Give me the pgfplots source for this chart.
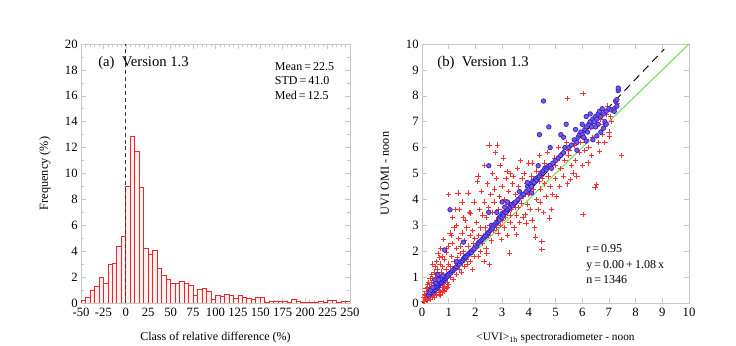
\documentclass[border=0pt]{standalone}
\usepackage{pgfplots}
\pgfplotsset{compat=1.18}
\usepackage{fontspec}
\setmainfont{Liberation Serif}
\definecolor{barred}{RGB}{230,40,40}
\definecolor{crossred}{RGB}{245,50,50}
\definecolor{circblue}{RGB}{40,30,220}
\definecolor{circfill}{RGB}{130,90,200}
\definecolor{lgreen}{RGB}{120,220,90}
\definecolor{axgray}{RGB}{200,200,200}
\begin{document}
\begin{tikzpicture}
\useasboundingbox (0,0) rectangle (552pt,259.5pt);
\pgfplotsset{
  every axis/.append style={
    scale only axis,
    font=\fontsize{9.5}{10}\selectfont,
    /pgf/number format/assume math mode=true,
    axis line style={axgray},
    tick style={axgray, line width=0.4pt},
    major tick length=3.5pt,
    minor tick length=2pt,
    tick align=inside,
    xtick pos=both, ytick pos=both,
    xticklabel style={yshift=0pt},
    yticklabel style={xshift=1pt},
    label style={font=\fontsize{9.2}{11}\selectfont},
  }
}
\begin{axis}[
  at={(60.75pt,32.25pt)}, anchor=south west,
  width=201.75pt, height=194.25pt,
  xmin=-50, xmax=250, ymin=0, ymax=20,
  xtick={-50,-25,0,25,50,75,100,125,150,175,200,225,250},
  xticklabels={-50,-25,0,25,50,75,100,125,150,175,200,225,250},
  ytick={0,2,...,20},
  minor x tick num=4, minor y tick num=1,
  xlabel={Class of relative difference (\%)},
  ylabel={Frequency (\%)},
  xlabel style={at={(axis description cs:0.5,-0.135)}, anchor=center, font=\fontsize{9}{11}\selectfont},
  ylabel style={at={(axis description cs:-0.134,0.5)}, anchor=center},
]
\addplot[ybar interval, draw=barred, fill=red!6, line width=0.6pt] coordinates {
(-50,0.2) (-45,0.45) (-40,0.95) (-35,1.3) (-30,1.95) (-25,1.5) (-20,2.95) (-15,3.05) (-10,4.35) (-5,5.15)
(0,9.0) (5,12.85) (10,11.7) (15,8.95) (20,4.2) (25,3.75) (30,4.05) (35,2.7) (40,2.15) (45,1.85)
(50,1.5) (55,1.55) (60,1.65) (65,1.5) (70,1.35) (75,0.6) (80,1.05) (85,1.15) (90,0.9) (95,0.3)
(100,0.55) (105,0.5) (110,0.65) (115,0.55) (120,0.35) (125,0.6) (130,0.4) (135,0.35) (140,0.3) (145,0.4)
(150,0.45) (155,0.05) (160,0.15) (165,0.15) (170,0.15) (175,0.15) (180,0.05) (185,0.3) (190,0.1) (195,0.05)
(200,0.05) (205,0.05) (210,0.05) (215,0.15) (220,0.05) (225,0.2) (230,0.2) (235,0.05) (240,0.15) (245,0.15)
(250,0.15)};
\addplot[black!80, line width=0.7pt, dash pattern=on 3pt off 2.2pt] coordinates {(0,0) (0,20)};
\node[anchor=west, font=\fontsize{11}{12}\selectfont] at (axis cs:-36,18.5) {(a)\enspace Version 1.3};
\node[anchor=north west, align=left, font=\fontsize{9}{10.8}\selectfont, inner sep=0pt] at (axis cs:166,18.6)
  {Mean\,=\,22.5\\STD\,=\,41.0\\Med\,=\,12.5};
\end{axis}

\begin{axis}[
  at={(316.5pt,32.25pt)}, anchor=south west,
  width=200.25pt, height=194.25pt,
  xmin=0, xmax=10, ymin=0, ymax=10,
  xtick={0,1,...,10}, ytick={0,1,...,10},
  xlabel={\textless UVI\textgreater{}$_{\mathrm{1h}}$ spectroradiometer - noon},
  ylabel={UVI OMI - noon},
  xlabel style={at={(axis description cs:0.5,-0.135)}, anchor=center, font=\fontsize{8.5}{11}\selectfont},
  ylabel style={at={(axis description cs:-0.139,0.5)}, anchor=center},
]
\addplot[only marks, color=crossred, mark=+, mark size=2pt, line width=0.6pt] coordinates {
(0.05,0.08) (0.08,0.2) (0.1,0.05) (0.12,0.3) (0.15,0.12) (0.15,0.45) (0.18,0.25) (0.2,0.6) (0.2,0.1) (0.22,0.35)
(0.25,0.5) (0.25,0.18) (0.28,0.7) (0.3,0.3) (0.3,0.55) (0.32,0.15) (0.35,0.42) (0.35,0.8) (0.38,0.25) (0.4,0.6)
(0.4,0.95) (0.42,0.35) (0.45,0.5) (0.45,0.2) (0.48,0.75) (0.5,1.1) (0.5,0.4) (0.52,0.6) (0.55,0.3) (0.55,0.85)
(0.58,1.3) (0.6,0.5) (0.6,0.7) (0.62,1.0) (0.65,0.35) (0.65,0.6) (0.68,1.5) (0.7,0.8) (0.7,0.45) (0.72,1.2)
(0.75,0.6) (0.75,0.95) (0.78,1.4) (0.8,0.5) (0.8,0.75) (0.82,1.1) (0.85,1.7) (0.85,0.65) (0.88,0.9) (0.9,1.3)
(0.9,0.55) (0.92,1.95) (0.95,0.8) (0.95,1.1) (0.98,1.5) (1.0,0.7) (1.0,2.2) (0.6,1.9) (0.55,1.6) (0.45,1.2)
(0.4,1.5) (0.7,2.1) (0.8,2.45) (0.9,2.1) (0.3,0.95) (0.25,0.8) (0.35,1.1) (0.15,0.55) (0.1,0.35) (0.65,1.75)
(0.75,1.8) (0.5,1.4) (0.2,0.7) (0.95,0.6) (0.85,0.45) (0.78,0.4) (0.7,0.3)
(1.05,1.4) (1.05,2.7) (1.08,1.0) (1.1,1.8) (1.12,2.3) (1.15,1.2) (1.18,0.9) (1.2,1.6) (1.2,2.9) (1.25,1.4)
(1.28,2.1) (1.3,1.1) (1.3,3.0) (1.32,1.75) (1.35,4.25) (1.38,2.5) (1.4,1.3) (1.4,3.6) (1.42,1.9) (1.45,2.2)
(1.48,1.2) (1.5,2.7) (1.52,1.6) (1.55,3.3) (1.55,2.0) (1.58,1.4) (1.6,2.4) (1.62,3.2) (1.65,1.7) (1.68,2.9)
(1.7,1.5) (1.72,4.25) (1.72,2.2) (1.75,1.9) (1.78,3.5) (1.8,1.6) (1.8,2.6) (1.82,3.47) (1.85,2.0) (1.88,1.3)
(1.9,2.8) (1.92,2.3) (1.95,1.8) (1.95,3.9) (1.98,2.5) (1.0,4.2) (1.25,3.6) (1.1,2.6) (1.5,3.9) (1.15,3.3)
(2.0,2.2) (2.05,3.1) (2.07,4.7) (2.1,4.9) (2.1,1.8) (2.12,2.6) (2.15,3.6) (2.18,2.0) (2.2,2.9) (2.22,4.3)
(2.25,2.3) (2.28,3.4) (2.3,2.6) (2.32,1.6) (2.35,5.3) (2.35,3.9) (2.38,2.9) (2.4,2.1) (2.42,3.3) (2.43,1.93)
(2.45,4.6) (2.48,2.7) (2.5,3.7) (2.51,6.1) (2.53,1.48) (2.55,3.0) (2.58,4.2) (2.6,2.4) (2.62,3.5) (2.65,5.0)
(2.68,2.8) (2.7,3.9) (2.72,4.4) (2.76,5.8) (2.78,3.2) (2.8,4.8) (2.82,6.1) (2.85,2.7) (2.88,3.6) (2.9,4.1)
(2.92,5.3) (2.95,3.0) (2.97,2.45) (3.0,4.5) (3.02,3.5) (3.05,5.6) (3.08,2.9) (3.1,4.0) (3.12,3.3) (3.15,4.8)
(3.18,5.08) (3.2,2.6) (3.22,3.8) (3.25,4.3) (3.28,1.93) (3.3,3.1) (3.32,5.0) (3.35,3.6) (3.38,4.6) (3.41,4.89)
(3.45,2.9) (3.48,3.9) (3.5,4.2) (3.53,2.64) (3.55,3.4) (3.58,5.2) (3.6,3.7) (3.62,4.5) (3.65,3.1) (3.68,5.5)
(3.72,3.86) (3.75,4.8) (3.78,3.3) (3.8,4.1) (3.82,5.0) (3.86,3.41) (3.9,3.09) (3.92,4.6) (3.95,3.8) (3.98,5.4)
(4.03,4.25) (4.05,3.6) (4.1,4.9) (4.12,3.2) (4.15,5.4) (4.18,4.4) (4.22,2.9) (4.25,2.55) (4.28,4.0) (4.3,5.1)
(4.35,3.6) (4.38,4.7) (4.4,5.7) (4.42,3.9) (4.45,4.4) (4.49,2.38) (4.49,2.06) (4.52,5.0) (4.55,3.5) (4.58,4.6)
(4.6,5.4) (4.65,4.1) (4.7,5.8) (4.72,4.9) (4.78,3.28) (4.8,4.5) (4.84,3.6) (4.85,5.3) (4.9,4.2) (4.95,5.6)
(5.0,4.8) (5.03,4.12) (5.05,5.5) (5.1,6.0) (5.15,4.5) (5.2,5.2) (5.25,5.8) (5.3,4.9) (5.35,5.5) (5.4,6.2)
(5.44,7.89) (5.45,4.6) (5.5,5.7) (5.56,4.76) (5.6,5.3) (5.66,5.02) (5.7,6.1) (5.75,5.5) (5.8,4.9) (5.85,6.4)
(5.9,5.8) (5.95,6.2) (6.0,5.3) (6.03,8.08) (6.03,3.41) (6.05,6.6) (6.1,5.9) (6.15,6.3) (6.22,5.41) (6.25,6.0)
(6.3,6.8) (6.35,5.7) (6.4,6.4) (6.48,4.47) (6.53,4.57) (6.45,7.0)
(6.6,6.2) (6.65,5.86) (6.7,7.1) (6.75,6.5) (6.8,6.9) (6.85,6.2) (6.9,7.3) (7.0,6.6) (7.03,6.43) (7.1,7.0)
(7.2,7.4) (7.3,7.7) (7.47,5.70) (6.95,7.6) (7.05,7.2)
(1.5,1.55) (2.0,2.1) (2.5,2.6) (3.0,3.2) (3.5,3.7) (4.0,4.2) (4.5,4.8) (5.0,5.3) (5.5,5.9) (6.0,6.4)
(2.8,2.9) (3.3,3.4) (1.2,1.25)};
\addplot[lgreen, line width=0.8pt] coordinates {(0,0) (10,10)};
\addplot[only marks, mark=*, mark size=1.7pt, mark options={draw=circblue, fill=circfill, line width=0.5pt}] coordinates {
(0.3,0.35) (0.35,0.4) (0.38,0.45) (0.4,0.42) (0.42,0.5) (0.45,0.48) (0.48,0.55) (0.5,0.52) (0.52,0.6) (0.55,0.58)
(0.57,0.65) (0.6,0.62) (0.6,0.7) (0.62,0.68) (0.65,0.72) (0.65,0.8) (0.68,0.75) (0.7,0.78) (0.72,0.82) (0.75,0.8)
(0.75,0.9) (0.78,0.85) (0.8,0.88) (0.82,0.92) (0.85,0.9) (0.85,1.0) (0.88,0.95) (0.9,1.0) (0.92,1.05) (0.95,1.02)
(0.98,1.1) (1.0,1.08) (0.25,0.3) (0.28,0.4) (0.33,0.5) (0.45,0.62) (0.55,0.75) (0.7,0.95) (0.5,0.8) (0.4,0.6)
(0.62,0.9) (0.78,1.05) (0.85,2.05) (0.6,1.1) (0.48,0.9)
(1.05,3.6) (1.05,1.15) (1.1,1.2) (1.15,1.25) (1.2,1.3) (1.25,1.35) (1.3,1.4) (1.35,1.5) (1.4,1.5) (1.45,1.6)
(1.5,1.62) (1.55,1.7) (1.6,1.75) (1.62,1.8) (1.65,1.78) (1.7,1.85) (1.75,1.9) (1.8,1.95) (1.85,2.0) (1.85,1.95)
(1.9,2.05) (1.95,2.1) (1.55,2.35) (1.3,1.6)
(2.05,2.2) (2.1,2.3) (2.15,2.35) (2.2,2.4) (2.25,2.45) (2.3,2.5) (2.35,2.55) (2.4,2.6) (2.45,2.7) (2.5,2.72)
(2.5,3.5) (2.5,5.3) (2.55,2.8) (2.6,2.85) (2.6,3.0) (2.65,2.9) (2.7,3.0) (2.75,3.05) (2.8,3.1) (2.85,3.15)
(2.9,3.3) (2.9,3.2) (2.95,3.35) (3.0,3.3) (3.0,3.45) (3.05,3.4) (3.1,3.5) (3.15,3.5) (3.2,3.6) (3.25,3.65)
(3.3,3.7) (3.35,3.8) (3.4,3.75) (3.45,3.85) (3.5,3.9) (3.1,3.7) (3.2,3.9) (2.8,3.5) (3.0,3.9)
(3.6,4.0) (3.7,4.1) (3.8,4.2) (3.9,4.3) (3.95,4.5) (4.0,4.4) (4.05,4.6) (4.1,4.5) (4.15,4.7) (4.2,4.65)
(4.25,4.8) (4.3,4.75) (4.35,4.85) (4.4,4.9) (4.45,5.0) (4.5,5.05) (4.55,5.1) (4.6,5.2) (4.65,5.15) (4.7,5.25)
(4.75,5.3) (4.8,5.3) (4.85,5.2) (4.9,5.4) (5.0,5.5) (5.1,5.6) (5.2,5.7) (5.3,5.8) (4.35,5.3) (4.55,7.8)
(4.4,6.5) (4.75,6.8) (3.65,4.3) (3.95,4.65) (4.1,4.25) (5.2,6.5) (5.3,6.4) (5.4,6.9) (5.35,6.0) (4.8,6.0)
(5.5,6.0) (5.6,6.1) (5.7,6.3) (5.8,6.2) (5.85,6.4) (5.9,6.5) (5.95,6.6) (6.0,6.5) (6.05,6.4) (6.1,6.7)
(6.15,6.8) (6.2,6.6) (6.25,6.9) (6.3,7.0) (6.35,6.8) (6.4,7.1) (6.45,7.0) (6.5,7.2) (6.55,7.1) (6.6,7.3)
(6.65,7.4) (6.7,7.2) (6.75,7.5) (6.8,7.3) (6.85,7.0) (6.9,7.4) (7.0,7.5) (7.1,7.45) (7.2,7.5) (7.25,7.8)
(7.3,7.6) (7.3,7.85) (7.35,8.2) (7.35,8.3) (7.2,7.4) (6.0,6.9) (6.3,7.3) (6.6,6.9) (6.7,6.6) (6.4,6.3)
(6.5,6.8) (5.8,5.9) (5.75,6.7) (6.15,6.25) (6.55,6.45) (6.9,6.9) (6.8,6.75) (6.15,7.2)};
\addplot[black, line width=0.7pt, dash pattern=on 6pt off 4pt] coordinates {(0,0) (9.07,9.8)};
\node[anchor=west, font=\fontsize{11}{12}\selectfont] at (axis cs:0.4,9.25) {(b)\enspace Version 1.3};
\node[anchor=north west, align=left, font=\fontsize{9}{11.3}\selectfont, inner sep=0pt] at (axis cs:6.15,2.25)
  {r\,=\,0.95\\y\,=\,0.00\,+\,1.08\,x\\n\,=\,1346};
\end{axis}
\end{tikzpicture}
\end{document}
